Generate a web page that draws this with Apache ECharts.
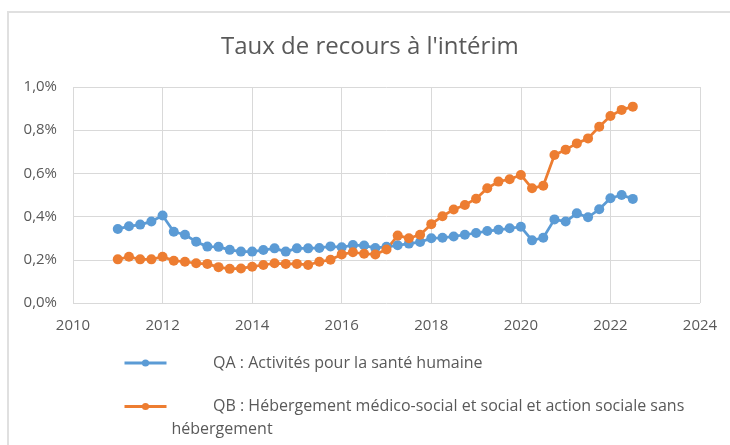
<!DOCTYPE html>
<html>
<head>
<meta charset="utf-8">
<script src="https://cdn.jsdelivr.net/npm/echarts@6/dist/echarts.min.js"></script>
<style>
    html, body { margin: 0; padding: 0; background: #fff; }
    #main { width: 730px; height: 445px; }
</style>
</head>
<body>
<div id="main"></div>
<script>
// trimestres (année-T)
var trimestres = [
    '2011-1', '2011-2', '2011-3', '2011-4',
    '2012-1', '2012-2', '2012-3', '2012-4',
    '2013-1', '2013-2', '2013-3', '2013-4',
    '2014-1', '2014-2', '2014-3', '2014-4',
    '2015-1', '2015-2', '2015-3', '2015-4',
    '2016-1', '2016-2', '2016-3', '2016-4',
    '2017-1', '2017-2', '2017-3', '2017-4',
    '2018-1', '2018-2', '2018-3', '2018-4',
    '2019-1', '2019-2', '2019-3', '2019-4',
    '2020-1', '2020-2', '2020-3', '2020-4',
    '2021-1', '2021-2', '2021-3', '2021-4',
    '2022-1', '2022-2', '2022-3'
];

// taux en %
var tauxQA = [
    0.343, 0.355, 0.363, 0.377,
    0.405, 0.330, 0.316, 0.284,
    0.261, 0.260, 0.246, 0.238,
    0.238, 0.245, 0.253, 0.238,
    0.253, 0.253, 0.255, 0.262,
    0.258, 0.268, 0.266, 0.255,
    0.260, 0.267, 0.275, 0.282,
    0.300, 0.302, 0.308, 0.316,
    0.324, 0.333, 0.339, 0.346,
    0.353, 0.290, 0.302, 0.387,
    0.377, 0.415, 0.397, 0.434,
    0.485, 0.500, 0.482
];

var tauxQB = [
    0.202, 0.214, 0.202, 0.202,
    0.214, 0.196, 0.191, 0.184,
    0.181, 0.166, 0.158, 0.160,
    0.168, 0.176, 0.184, 0.181,
    0.181, 0.176, 0.191, 0.200,
    0.225, 0.235, 0.228, 0.225,
    0.248, 0.312, 0.300, 0.316,
    0.365, 0.402, 0.433, 0.454,
    0.483, 0.531, 0.562, 0.573,
    0.593, 0.531, 0.543, 0.685,
    0.710, 0.739, 0.762, 0.816,
    0.866, 0.894, 0.909
];

var nomQA = 'QA : Activités pour la santé humaine';
var nomQB = 'QB : Hébergement médico-social et social et action sociale sans hébergement';

var gris = '#595959';
var grille = '#d9d9d9';
var police = 'Open Sans';

// position sur l'axe des années
function xTrim(t) {
    var p = t.split('-');
    return Number(p[0]) + (Number(p[1]) - 1) / 4;
}

function paires(valeurs) {
    var res = [];
    for (var i = 0; i < trimestres.length; i++) {
        res.push([xTrim(trimestres[i]), valeurs[i]]);
    }
    return res;
}

var myChart = echarts.init(document.getElementById('main'));

var option = {
    backgroundColor: '#fff',
    animation: false,
    title: {
        text: "Taux de recours à l'intérim",
        left: 216,
        top: 30,
        textStyle: { color: gris, fontSize: 24, fontWeight: 'normal', fontFamily: police }
    },
    graphic: [{
        type: 'rect',
        shape: { x: 8, y: 12, width: 800, height: 600 },
        style: { fill: null, stroke: '#e0e0e0', lineWidth: 2 },
        silent: true
    }],
    legend: [{
        data: [nomQA],
        orient: 'vertical',
        left: 118,
        top: 348,
        itemWidth: 42,
        itemHeight: 9,
        lineStyle: { width: 3 },
        formatter: function (name) { return '          ' + name; },
        textStyle: { color: gris, fontSize: 16, fontFamily: police, lineHeight: 20 }
    }, {
        data: [nomQB],
        orient: 'vertical',
        left: 118,
        top: 367,
        itemWidth: 42,
        itemHeight: 9,
        lineStyle: { width: 3 },
        // ligne vide en tête pour aligner l'icône sur la 1re ligne
        formatter: function () {
            return '\n          QB : Hébergement médico-social et social et action sociale sans\nhébergement';
        },
        textStyle: { color: gris, fontSize: 16, fontFamily: police, lineHeight: 23 }
    }],
    grid: {
        left: 73,
        right: 30,
        top: 87,
        bottom: 142,
        containLabel: false
    },
    xAxis: {
        type: 'value',
        min: 2010,
        max: 2024,
        interval: 2,
        axisLine: { show: false },
        axisTick: { show: false },
        splitLine: { show: true, lineStyle: { color: grille, width: 1 } },
        axisLabel: {
            color: gris, fontSize: 15, fontFamily: police, margin: 15,
            formatter: function (v) { return String(v); }
        }
    },
    yAxis: {
        type: 'value',
        min: 0,
        max: 1,
        interval: 0.2,
        axisLine: { show: false },
        axisTick: { show: false },
        splitLine: { show: true, lineStyle: { color: grille, width: 1 } },
        axisLabel: {
            color: gris, fontSize: 15, fontFamily: police, margin: 16,
            formatter: function (v) { return v.toFixed(1).replace('.', ',') + '%'; }
        }
    },
    series: [{
        name: nomQA,
        type: 'line',
        data: paires(tauxQA),
        symbol: 'circle',
        symbolSize: 10,
        color: '#5b9bd5',
        lineStyle: { width: 2.75, color: '#5b9bd5' },
        itemStyle: { color: '#5b9bd5' }
    }, {
        name: nomQB,
        type: 'line',
        data: paires(tauxQB),
        symbol: 'circle',
        symbolSize: 10,
        color: '#ed7d31',
        lineStyle: { width: 2.75, color: '#ed7d31' },
        itemStyle: { color: '#ed7d31' }
    }]
};

myChart.setOption(option);
</script>
</body>
</html>
